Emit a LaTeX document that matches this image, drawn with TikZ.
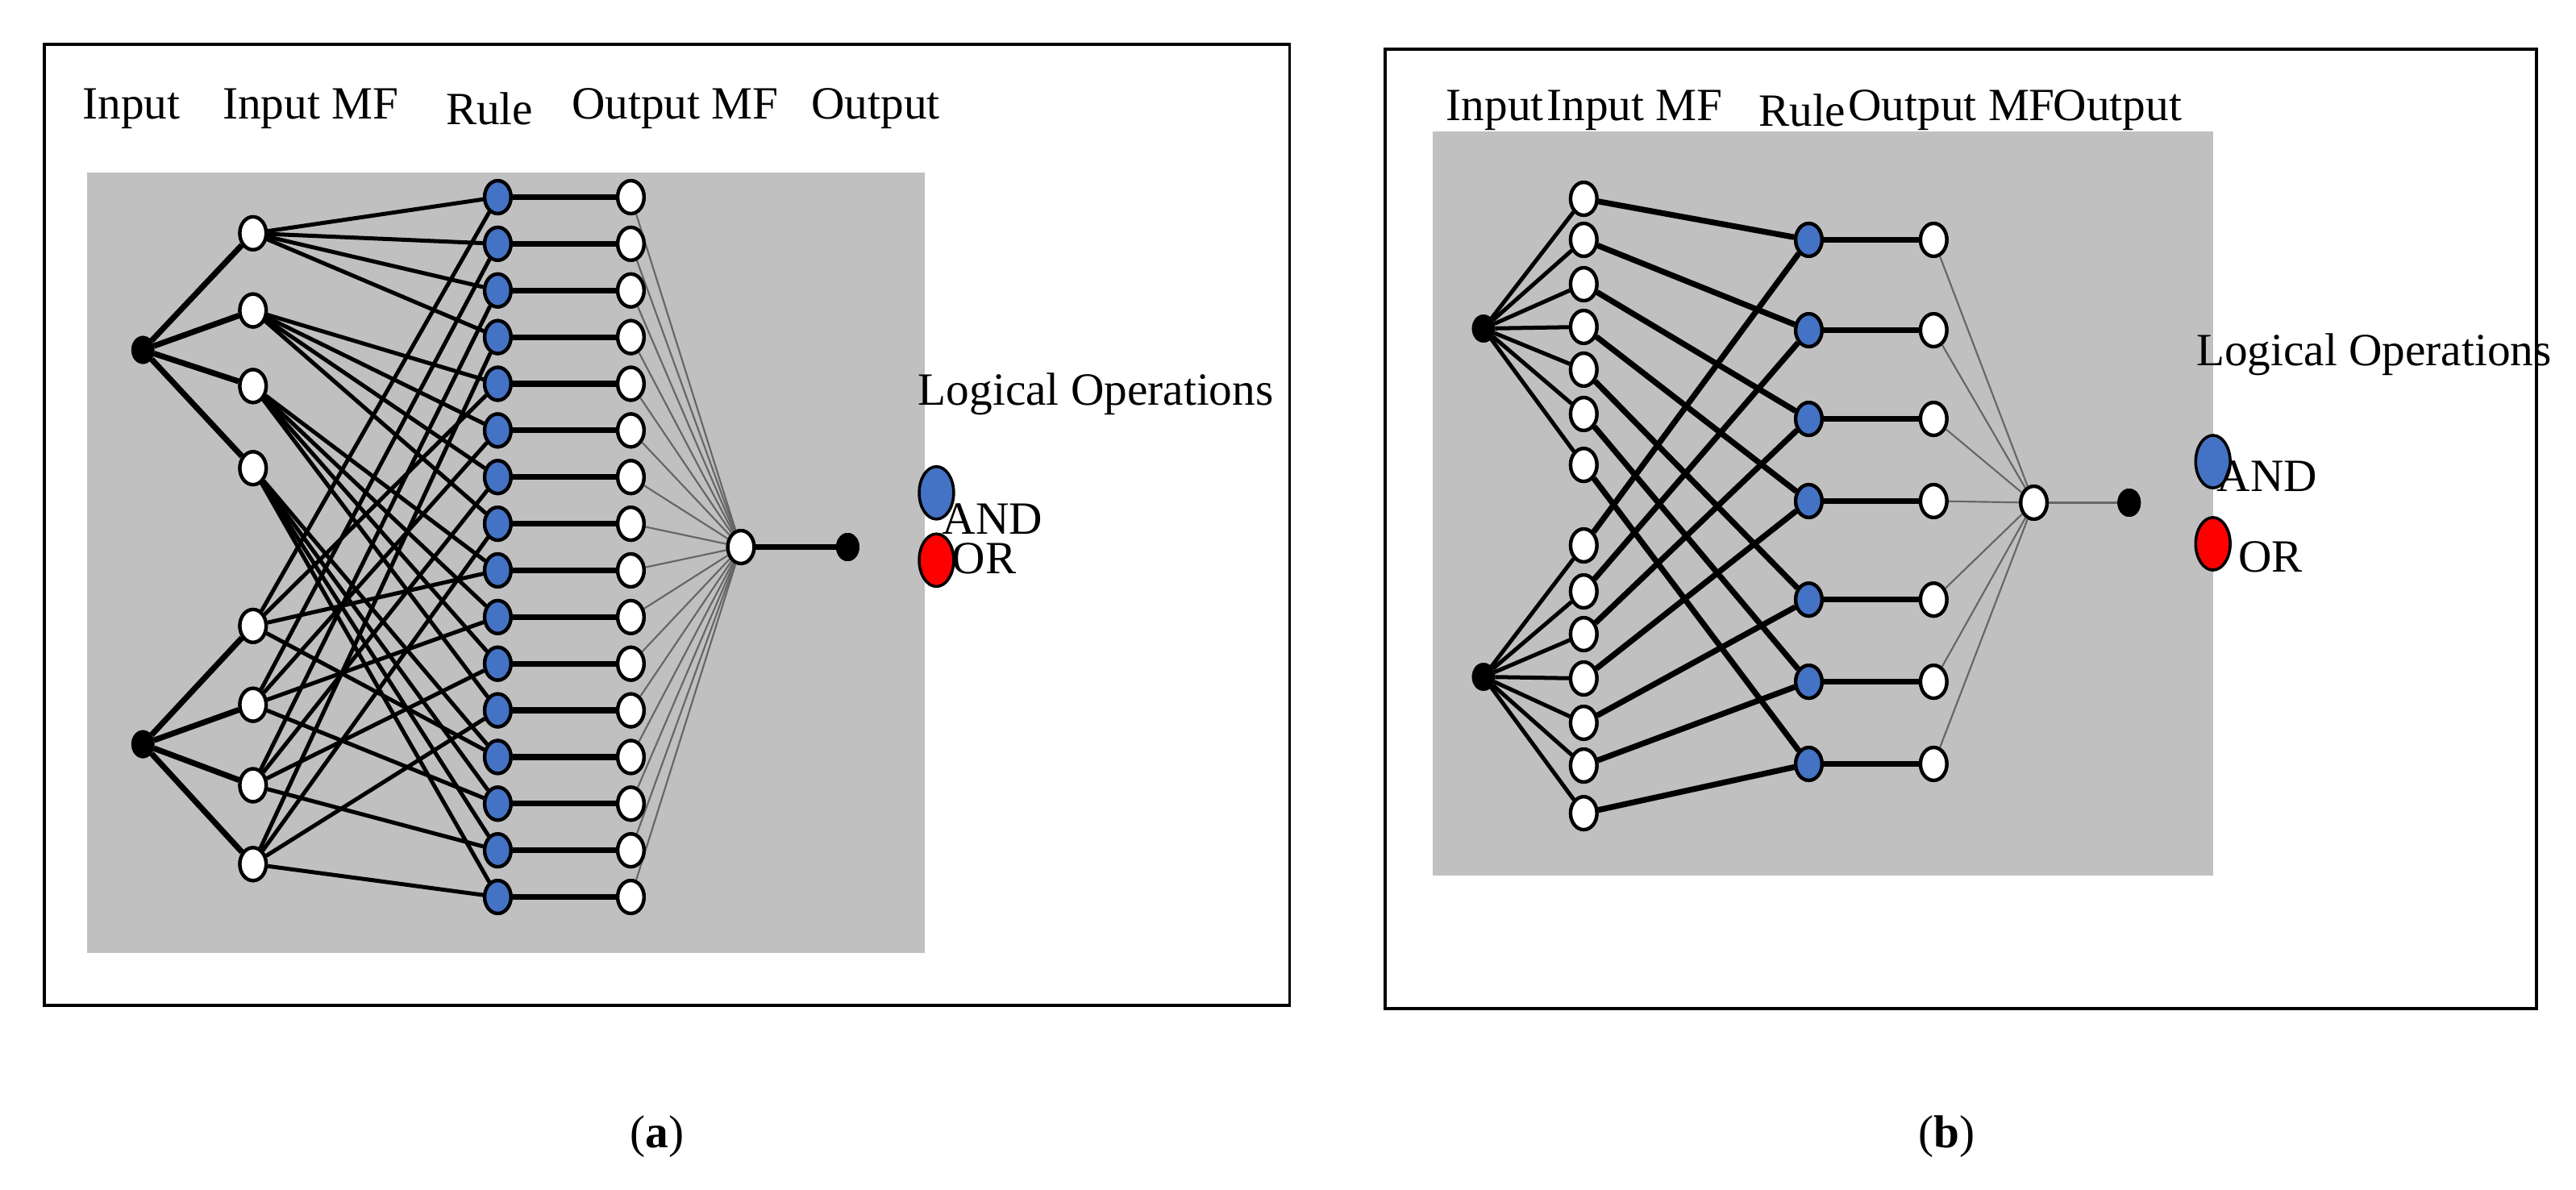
\documentclass[tikz,border=0pt]{standalone}
\usepackage{fontspec}
\setmainfont{Liberation Serif}
\usetikzlibrary{shapes.geometric}
\definecolor{gbg}{RGB}{192,192,192}
\definecolor{rblue}{RGB}{68,114,196}
\begin{document}
\begin{tikzpicture}[x=0.1cm,y=-0.1cm,
  lbl/.style={font=\fontsize{80}{90}\selectfont,inner sep=0pt},
  captxt/.style={font=\fontsize{80}{90}\selectfont,inner sep=0pt},
  mf/.style={ellipse,draw=black,line width=6pt,fill=white,minimum width=1.6cm,minimum height=2.0cm,inner sep=0pt},
  rl/.style={mf,fill=rblue},
  inp/.style={ellipse,fill=black,draw=black,minimum width=1.4cm,minimum height=1.7cm,inner sep=0pt},
  lg/.style={ellipse,draw=black,line width=5pt,minimum width=2.1cm,minimum height=3.2cm,inner sep=0pt},
  e/.style={line width=10pt},
  m/.style={line width=7pt},
  th/.style={line width=3pt,black!60}]
\useasboundingbox (0,0) rectangle (1568,724);
\fill[white] (0,0) rectangle (1568,724);
% ---------- panel (a)
\draw[line width=5pt] (27,27) rectangle (785,612);
\fill[gbg] (53,105) rectangle (563,580);
\node[lbl] (ha1) at (80,66) {Input};
\node[lbl] (ha2) at (189,66) {Input MF};
\node[lbl] (ha3) at (298,66) {Rule};
\node[lbl] (ha4) at (411,66) {Output MF};
\node[lbl] (ha5) at (533,66) {Output};
\node[inp] (ai1) at (87,213) {};
\node[inp] (ai2) at (87,453) {};
\foreach \i/\y in {1/142,2/189,3/235,4/285,5/381,6/429,7/478,8/526}
  \node[mf] (am\i) at (154,\y) {};
\foreach \k in {1,...,16}{
  \node[rl] (ar\k) at (303,{120+(\k-1)*28.4}) {};
  \node[mf] (ao\k) at (384,{120+(\k-1)*28.4}) {};}
\node[mf] (aout) at (451,333) {};
\node[inp] (afin) at (516,333) {};
\foreach \i in {1,2,3,4}{
  \draw[e] (ai1) -- (am\i);
  \pgfmathtruncatemacro{\j}{\i+4}
  \draw[e] (ai2) -- (am\j);}
\foreach \i in {1,2,3,4}{
  \foreach \j in {1,2,3,4}{
    \pgfmathtruncatemacro{\k}{4*(\i-1)+\j}
    \pgfmathtruncatemacro{\b}{4+\j}
    \draw[m] (am\i) -- (ar\k);
    \draw[m] (am\b) -- (ar\k);}}
\foreach \k in {1,...,16}{
  \draw[e] (ar\k) -- (ao\k);
  \draw[th] (ao\k) -- (aout);}
\draw[e] (aout) -- (afin);
\foreach \i/\y in {1/142,2/189,3/235,4/285,5/381,6/429,7/478,8/526}
  \node[mf] at (154,\y) {};
\foreach \k in {1,...,16}{
  \node[rl] at (303,{120+(\k-1)*28.4}) {};
  \node[mf] at (384,{120+(\k-1)*28.4}) {};}
\node[mf] at (451,333) {};
\node[inp] at (516,333) {};
\node[lbl] (alo) at (667,240) {Logical Operations};
\node[lg,fill=rblue] (aand) at (570,300) {};
\node[lbl] (aandt) at (604,316) {AND};
\node[lg,fill=red] (aor) at (570,341) {};
\node[lbl] (aort) at (599,340) {OR};
\node[captxt] (capa) at (400,692) {(\textbf{a})};
% ---------- panel (b)
\draw[line width=5pt] (843,30) rectangle (1544,614);
\fill[gbg] (872,80) rectangle (1347,533);
\node[lbl] (hb1) at (910,67) {Input};
\node[lbl] (hb2) at (995,67) {Input MF};
\node[lbl] (hb3) at (1097,67) {Rule};
\node[lbl] (hb4) at (1188,67) {Output MF};
\node[lbl] (hb5) at (1289,67) {Output};
\node[inp] (bi1) at (903,200) {};
\node[inp] (bi2) at (903,412) {};
\foreach \i/\y in {1/121,2/146,3/173,4/199,5/225,6/252,7/283,8/332,9/360,10/386,11/413,12/440,13/466,14/495}
  \node[mf] (bm\i) at (964,\y) {};
\foreach \k/\y in {1/146,2/201,3/255,4/305,5/365,6/415,7/465}{
  \node[rl] (br\k) at (1101,\y) {};
  \node[mf] (bo\k) at (1177,\y) {};}
\node[mf] (bout) at (1238,306) {};
\node[inp] (bfin) at (1296,306) {};
\foreach \i in {1,...,7}{
  \draw[m] (bi1) -- (bm\i);
  \pgfmathtruncatemacro{\j}{\i+7}
  \draw[m] (bi2) -- (bm\j);
  \draw[e] (bm\i) -- (br\i);
  \draw[e] (bm\j) -- (br\i);
  \draw[e] (br\i) -- (bo\i);
  \draw[th] (bo\i) -- (bout);}
\draw[th] (bout) -- (bfin);
\foreach \i/\y in {1/121,2/146,3/173,4/199,5/225,6/252,7/283,8/332,9/360,10/386,11/413,12/440,13/466,14/495}
  \node[mf] at (964,\y) {};
\foreach \k/\y in {1/146,2/201,3/255,4/305,5/365,6/415,7/465}{
  \node[rl] at (1101,\y) {};
  \node[mf] at (1177,\y) {};}
\node[mf] at (1238,306) {};
\node[inp] at (1296,306) {};
\node[lbl] (blo) at (1445,216) {Logical Operations};
\node[lg,fill=rblue] (band) at (1347,281) {};
\node[lbl] (bandt) at (1380,290) {AND};
\node[lg,fill=red] (bor) at (1347,331) {};
\node[lbl] (bort) at (1382,339) {OR};
\node[captxt] (capb) at (1185,692) {(\textbf{b})};
\end{tikzpicture}
\end{document}
